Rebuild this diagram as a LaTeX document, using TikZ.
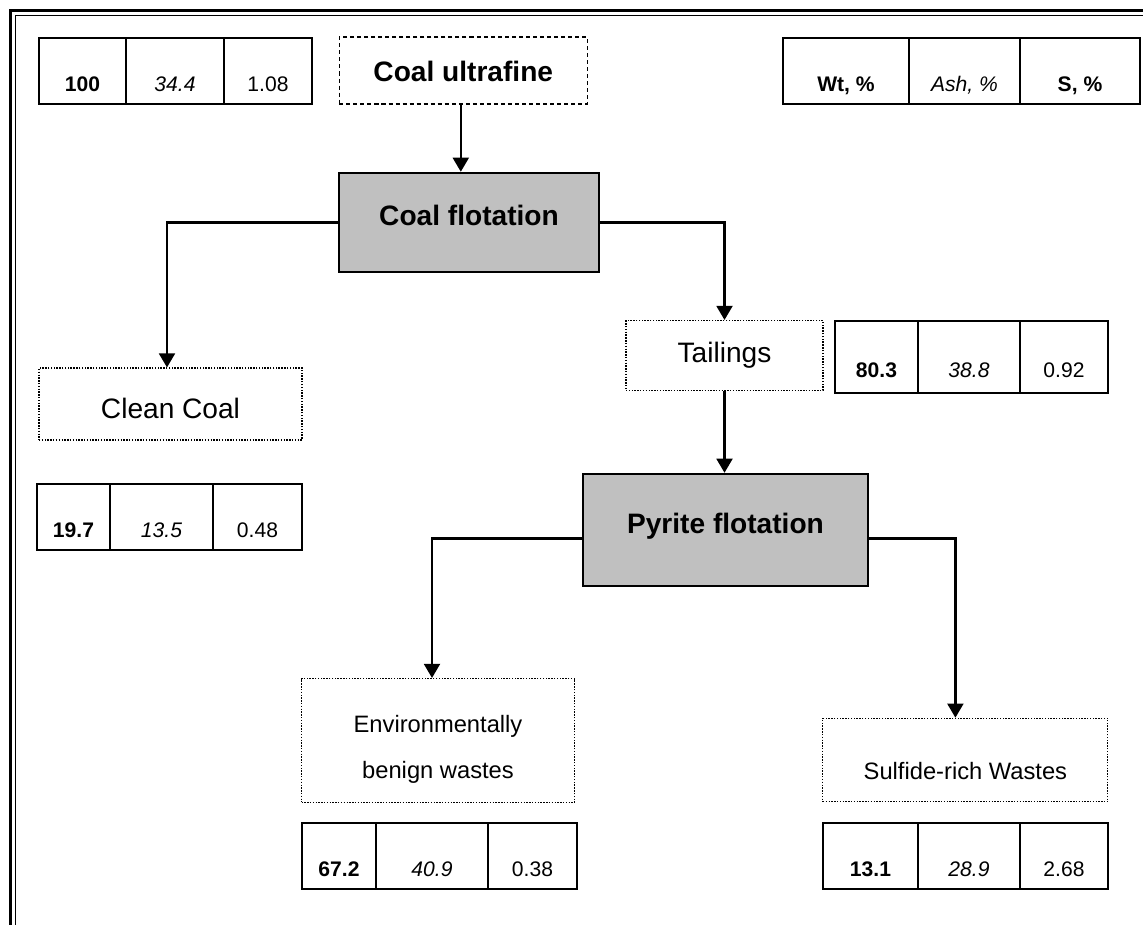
\documentclass[tikz,border=0pt]{standalone}
\usepackage{fontspec}
\setmainfont{Liberation Sans}
\usetikzlibrary{arrows.meta}
\definecolor{procgray}{RGB}{192,192,192}
\tikzset{
  process/.style={draw,line width=1.4pt,fill=procgray,font=\bfseries\fontsize{16}{19}\selectfont},
  stream/.style={draw,line width=0.6pt,dash pattern=on 0.8pt off 0.8pt,font=\fontsize{16}{19}\selectfont},
  cell/.style={draw,line width=0.8pt,minimum height=1.32cm,text height=23.5pt,text depth=0pt,font=\fontsize{12}{14}\selectfont},
  flow/.style={line width=1.4pt,-{Triangle[width=9pt,length=8pt]}}
}
\begin{document}
\begin{tikzpicture}[x=0.02cm,y=-0.02cm]
  \clip (0,0) rectangle (1143,925);

  % frame
  \draw[line width=1.7pt] (1150,10.5) -- (10.5,10.5) -- (10.5,935);
  \draw[line width=1.1pt] (1150,15.5) -- (15.5,15.5) -- (15.5,935);

  % feed
  \node[cell,minimum width=1.74cm] (feedwt) at (82.5,71) {\bfseries 100};
  \node[cell,minimum width=1.96cm] (feedash) at (175,71) {\itshape 34.4};
  \node[cell,minimum width=1.76cm] (feeds) at (268,71) {1.08};
  \node[stream,dash pattern=on 2.3pt off 1.7pt,line width=0.7pt,font=\bfseries\fontsize{16}{19}\selectfont,
        minimum width=4.96cm,minimum height=1.34cm,text height=13pt,text depth=0pt] (feed) at (463.3,70.5) {Coal ultrafine};

  % legend
  \node[cell,minimum width=2.52cm] (keywt) at (846,71) {\bfseries Wt, \%};
  \node[cell,minimum width=2.22cm] (keyash) at (964.5,71) {\itshape Ash, \%};
  \node[cell,minimum width=2.40cm] (keys) at (1080,71) {\bfseries S, \%};

  % coal flotation
  \node[process,minimum width=5.2cm,minimum height=1.98cm,text height=12pt,text depth=8.4pt] (coalflot) at (469,222.5) {Coal flotation};
  \node[stream,minimum width=5.26cm,minimum height=1.44cm,text height=17pt,text depth=0pt] (clean) at (170.5,404) {Clean Coal};
  \node[stream,minimum width=3.94cm,minimum height=1.40cm,text height=12pt,text depth=4.1pt] (tail) at (724.5,355.5) {Tailings};

  \node[cell,minimum width=1.46cm] (cleanwt) at (73.5,517) {\bfseries 19.7};
  \node[cell,minimum width=2.06cm] (cleanash) at (161.5,517) {\itshape 13.5};
  \node[cell,minimum width=1.78cm] (cleans) at (257.5,517) {0.48};

  \node[cell,minimum width=1.66cm,minimum height=1.44cm] (tailwt) at (876.5,357) {\bfseries 80.3};
  \node[cell,minimum width=2.04cm,minimum height=1.44cm] (tailash) at (969,357) {\itshape 38.8};
  \node[cell,minimum width=1.76cm,minimum height=1.44cm] (tails) at (1064,357) {0.92};

  % pyrite flotation
  \node[process,minimum width=5.7cm,minimum height=2.24cm,text height=12pt,text depth=7.9pt] (pyrflot) at (725.5,530) {Pyrite flotation};
  \node[stream,font=\fontsize{13.5}{26}\selectfont,align=center,minimum width=5.46cm,minimum height=2.48cm] (benign) at (438,740.5) {\rule{0pt}{20pt}Environmentally\\benign wastes};
  \node[stream,font=\fontsize{13.5}{16}\selectfont,minimum width=5.7cm,minimum height=1.67cm,text height=22.7pt,text depth=0pt] (sulf) at (965.4,760) {Sulfide-rich Wastes};

  \node[cell,minimum width=1.48cm] (benignwt) at (339,856) {\bfseries 67.2};
  \node[cell,minimum width=2.24cm] (benignash) at (432,856) {\itshape 40.9};
  \node[cell,minimum width=1.78cm] (benigns) at (532.5,856) {0.38};

  \node[cell,minimum width=1.90cm] (sulfwt) at (870.5,856) {\bfseries 13.1};
  \node[cell,minimum width=2.04cm] (sulfash) at (969,856) {\itshape 28.9};
  \node[cell,minimum width=1.76cm] (sulfs) at (1064,856) {2.68};

  % flows
  \draw[flow] ([xshift=-0.05cm]feed.south) -- ([xshift=-0.05cm]feed.south |- coalflot.north);
  \draw[flow] (coalflot.west) -| ([xshift=-0.07cm]clean.north);
  \draw[flow] (coalflot.east) -| (tail.north);
  \draw[flow] (tail.south) -- (tail.south |- pyrflot.north);
  \draw[flow] ([yshift=-0.17cm]pyrflot.west) -| ([xshift=-0.12cm]benign.north);
  \draw[flow] ([yshift=-0.17cm]pyrflot.east) -| ([xshift=-0.2cm]sulf.north);
\end{tikzpicture}
\end{document}
